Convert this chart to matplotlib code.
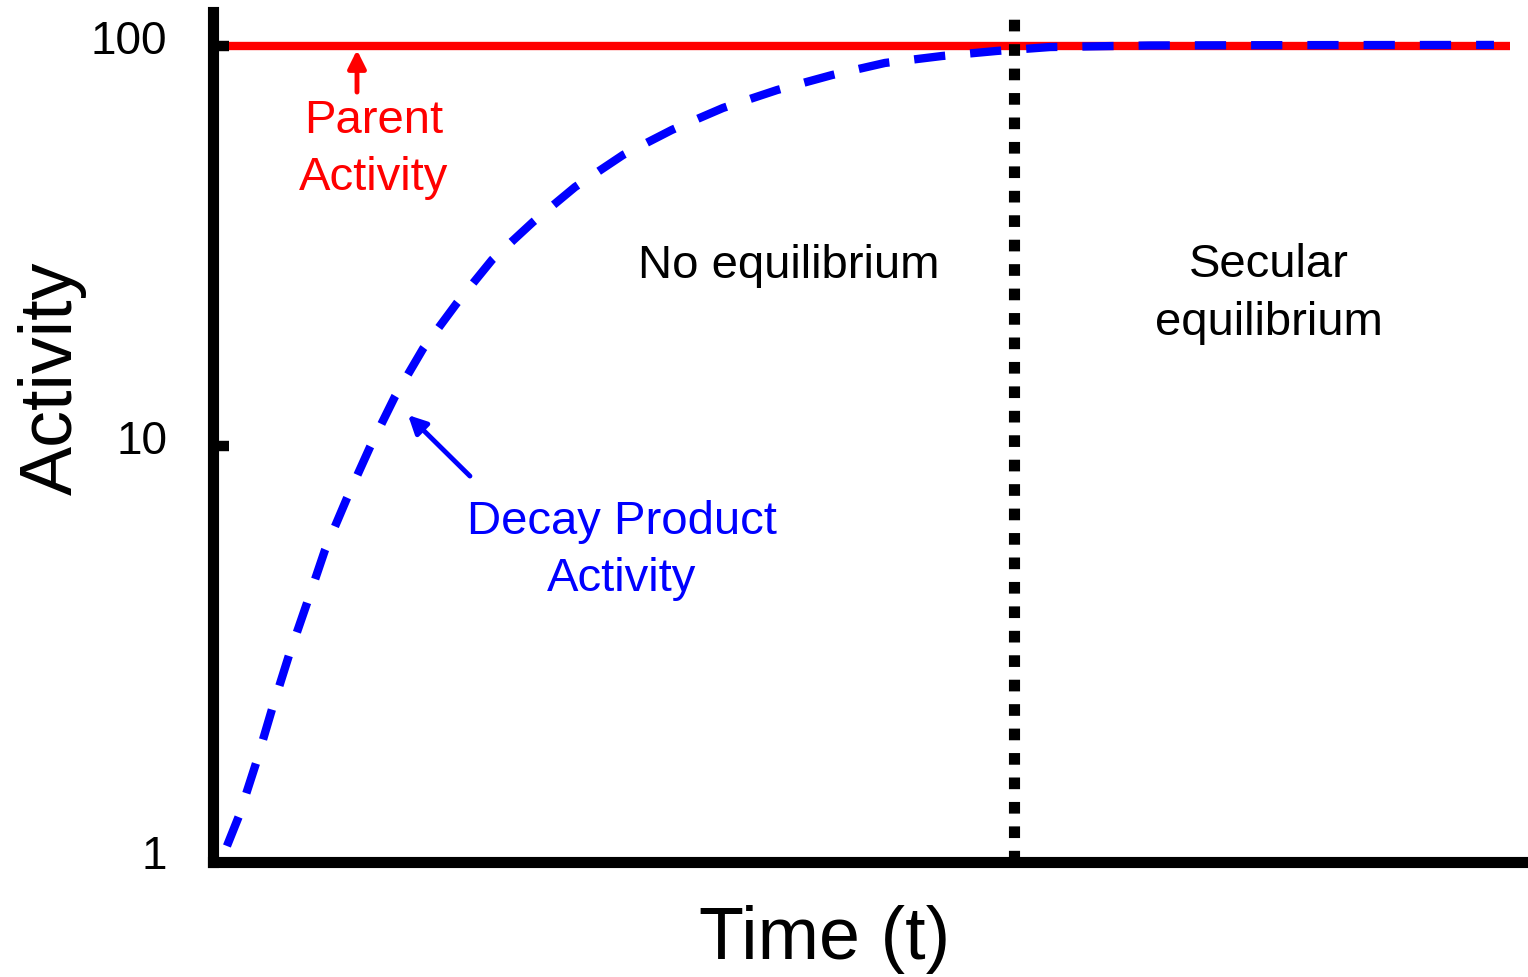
import matplotlib
matplotlib.use("Agg")
import matplotlib.pyplot as plt
from matplotlib.transforms import ScaledTranslation

plt.rcParams["font.family"] = ["Liberation Sans", "DejaVu Sans"]

# Parent activity (flat line) and decay product build-up
parent_t = [0.12, 9.86]
parent_activity = [100, 100]

product_t = [0.106, 0.198, 0.327, 0.449, 0.578, 0.715, 0.852, 1.019, 1.194,
             1.384, 1.597, 1.856, 2.122, 2.433, 2.753, 3.118, 3.490, 3.878,
             4.289, 4.707, 5.110, 5.544, 5.962, 6.365, 7.125, 8.266, 9.741]
product_activity = [1.00, 1.19, 1.61, 2.20, 3.00, 4.05, 5.50, 7.41, 9.94,
                    13.3, 17.5, 22.8, 29.2, 36.3, 44.4, 53.4, 61.7, 70.0,
                    77.6, 84.6, 90.7, 94.4, 97.2, 99.4, 100.3, 100.5, 100.6]

equilibrium_t = 6.09
ytick_values = [1, 10, 100]
ytick_labels = ["1", "10", "100"]

fig = plt.figure(figsize=(15.28, 9.77), dpi=100)
ax = fig.add_axes([0.1394, 0.1177, 0.8606, 0.870])

ax.plot(parent_t, parent_activity, color="#ff0000", lw=6, solid_capstyle="butt", zorder=2)
ax.axvline(equilibrium_t, color="black", lw=8, linestyle=(0, (1.05, 1.15)),
           dash_capstyle="butt", zorder=3)
ax.plot(product_t, product_activity, color="#0000ff", lw=6,
        linestyle=(0, (3.75, 3.0)), dash_capstyle="butt", zorder=4)

ax.set_yscale("log")
ax.set_xlim(0, 10)
ax.set_ylim(0.912, 121.6)
ax.set_yticks(ytick_values)
ax.set_yticklabels(ytick_labels)
ax.minorticks_off()
ax.set_xticks([])
ax.tick_params(axis="y", direction="in", length=11.5, width=7.5, pad=33,
               labelsize=33)

# tick at 1 sits under the bottom spine; labels are nudged like the original
ax.yaxis.get_major_ticks()[0].tick1line.set_visible(False)
label_shift = [-4.3, 6.5, 6.3]  # points
for lab, dy in zip(ax.get_yticklabels(), label_shift):
    lab.set_transform(lab.get_transform() + ScaledTranslation(0, dy / 72, fig.dpi_scale_trans))

for side in ["top", "right"]:
    ax.spines[side].set_visible(False)
for side in ["left", "bottom"]:
    ax.spines[side].set_linewidth(8)

ax.set_xlabel("Time (t)", fontsize=53)
ax.xaxis.set_label_coords(0.465, -0.091)
ax.xaxis.label.set_verticalalignment("center")
ax.set_ylabel("Activity", fontsize=53, va="center")
ax.yaxis.set_label_coords(-0.122, 0.569)

# annotations
ax.text(1.224, 55.0, "Parent\nActivity", color="#ff0000", fontsize=34,
        ha="center", va="center", linespacing=1.39)
ax.annotate("", xy=(1.095, 97.7), xytext=(1.095, 76.7),
            arrowprops=dict(arrowstyle="-|>", color="#ff0000", lw=3.5,
                            mutation_scale=27, shrinkA=0, shrinkB=0))

ax.text(3.110, 5.49, "Decay Product\nActivity", color="#0000ff", fontsize=34,
        ha="center", va="center", linespacing=1.39)
ax.annotate("", xy=(1.483, 11.95), xytext=(1.954, 8.41),
            arrowprops=dict(arrowstyle="-|>", color="#0000ff", lw=3.5,
                            mutation_scale=27, shrinkA=0, shrinkB=0))

ax.text(4.380, 28.2, "No equilibrium", color="black", fontsize=34,
        ha="center", va="center")
ax.text(8.030, 24.0, "Secular\nequilibrium", color="black", fontsize=34,
        ha="center", va="center", linespacing=1.39)

fig.savefig("out.png", dpi=100)
